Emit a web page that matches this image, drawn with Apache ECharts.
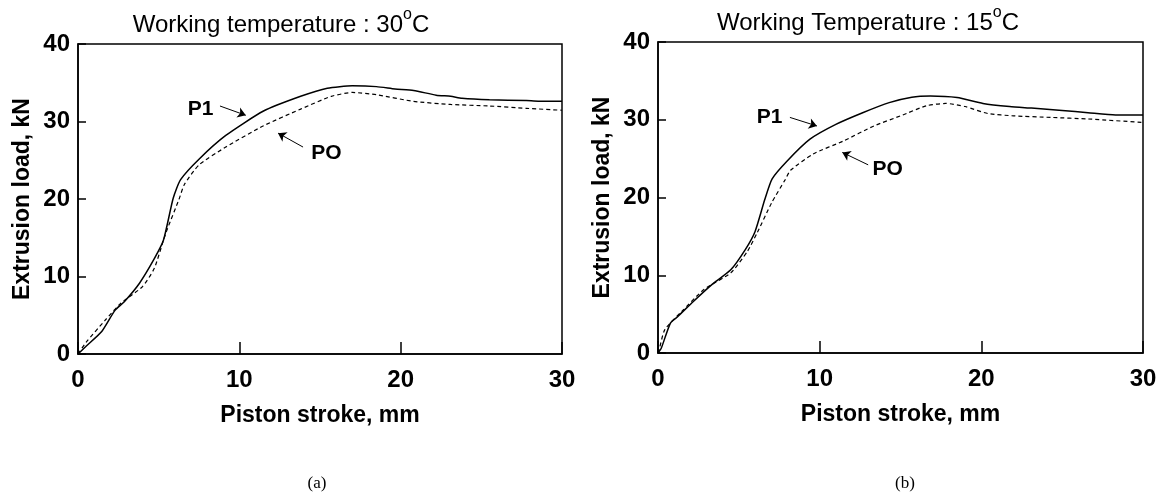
<!DOCTYPE html>
<html>
<head>
<meta charset="utf-8">
<script src="https://cdn.jsdelivr.net/npm/echarts@6/dist/echarts.min.js"></script>
<style>
  html, body { margin: 0; padding: 0; background: #fff; }
  #chart { width: 1170px; height: 495px; }
</style>
</head>
<body>
<div id="chart"></div>
<script>
// (a) working temperature 30 C
const strokeA_P1 = [0, 0.5, 1.47, 2.28, 2.87, 3.8, 4.73, 5.3, 5.9, 6.36, 7.53, 9.16, 11.5, 13.8, 15.45, 17.0, 18.5, 19.65, 20.8, 22.2, 23.1, 23.8, 25.5, 27.8, 29, 30]
const loadA_P1   = [0, 1.0, 2.9, 5.6, 6.75, 9.1, 12.3, 14.7, 20.1, 22.5, 25.2, 28.2, 31.35, 33.25, 34.3, 34.6, 34.5, 34.2, 34.0, 33.4, 33.25, 33.0, 32.8, 32.7, 32.6, 32.6]
const strokeA_PO = [0, 0.5, 1.7, 2.63, 4.0, 4.73, 5.3, 5.55, 6.25, 6.6, 7.5, 9.16, 11.5, 13.8, 15.7, 17.0, 18.5, 20.8, 23.1, 25.5, 27.8, 30]
const loadA_PO   = [0, 1.5, 4.4, 6.5, 8.7, 11.05, 14.7, 16.2, 19.9, 21.9, 24.4, 26.7, 29.45, 31.6, 33.25, 33.75, 33.45, 32.6, 32.2, 32.0, 31.7, 31.45]

// (b) working temperature 15 C
const strokeB_P1 = [0, 0.2, 0.77, 1.23, 2.17, 3.33, 4.5, 5.4, 6.0, 6.6, 7.06, 7.99, 9.4, 11.0, 12.66, 14.3, 15.7, 16.85, 18.5, 20.1, 21.75, 23.1, 25, 26.6, 28.3, 30]
const loadB_P1   = [0, 0.6, 3.85, 4.7, 6.6, 8.8, 10.7, 13.3, 15.6, 19.7, 22.4, 24.7, 27.5, 29.4, 30.9, 32.2, 32.9, 33.05, 32.85, 32.1, 31.7, 31.5, 31.2, 30.9, 30.6, 30.6]
const strokeB_PO = [0, 0.07, 0.42, 1.47, 2.86, 4.5, 5.54, 6.12, 7.05, 7.87, 8.2, 9.6, 11.5, 13.35, 15, 16.6, 17.8, 19, 20.4, 22, 24.3, 26.6, 30]
const loadB_PO   = [0, 0.4, 3.0, 5.35, 8.2, 10.3, 13.1, 15.4, 19.4, 22.3, 23.5, 25.6, 27.3, 29.2, 30.5, 31.8, 32.1, 31.7, 30.8, 30.5, 30.3, 30.1, 29.65]

const xTicks = [0, 10, 20, 30]
const yTicks = [0, 10, 20, 30, 40]

// annotation positions in data units: [text x, text y, arrow from x, y, arrow to x, y]
const noteA_P1 = [7.6, 31.6, 8.8, 32.0, 10.4, 30.8]
const noteA_PO = [15.4, 25.9, 13.95, 26.7, 12.4, 28.5]
const noteB_P1 = [6.9, 30.3, 8.16, 30.3, 9.83, 29.2]
const noteB_PO = [14.2, 23.65, 13.0, 24.2, 11.4, 25.8]

const font = 'Liberation Sans, Arial, sans-serif'

function pairs(xs, ys) {
  return xs.map((x, i) => [x, ys[i]])
}

function xAxis(idx) {
  return {
    type: 'value', gridIndex: idx, min: 0, max: 30, interval: 10,
    name: 'Piston stroke, mm', nameLocation: 'middle', nameGap: 50,
    nameTextStyle: { fontFamily: font, fontSize: 23, fontWeight: 'bold', color: '#000' },
    axisLine: { lineStyle: { color: '#000', width: 1.5 } },
    axisTick: { inside: true, length: 12, lineStyle: { color: '#000', width: 1.5 } },
    axisLabel: { fontFamily: font, fontSize: 24, fontWeight: 'bold', color: '#000', margin: 14 },
    splitLine: { show: false }
  }
}

function yAxis(idx) {
  return {
    type: 'value', gridIndex: idx, min: 0, max: 40, interval: 10,
    name: 'Extrusion load, kN', nameLocation: 'middle', nameGap: 44,
    nameTextStyle: { fontFamily: font, fontSize: 23, fontWeight: 'bold', color: '#000' },
    axisLine: { show: true, lineStyle: { color: '#000', width: 1.5 } },
    axisTick: { show: true, inside: true, length: 8, lineStyle: { color: '#000', width: 1.5 } },
    axisLabel: { fontFamily: font, fontSize: 24, fontWeight: 'bold', color: '#000', margin: 8 },
    splitLine: { show: false }
  }
}

function note(n, label) {
  return {
    markLine: {
      silent: true, animation: false,
      symbol: ['none', 'arrow'], symbolSize: 8,
      lineStyle: { color: '#000', width: 1, type: 'solid' },
      label: { show: false },
      data: [[{ coord: [n[2], n[3]] }, { coord: [n[4], n[5]] }]]
    },
    markPoint: {
      silent: true, animation: false,
      symbol: 'circle', symbolSize: 1,
      itemStyle: { color: 'transparent' },
      label: { show: true, position: 'inside', formatter: label, color: '#000',
               fontFamily: font, fontSize: 21, fontWeight: 'bold' },
      data: [{ coord: [n[0], n[1]] }]
    }
  }
}

function series(idx, xs, ys, dashed, n, label) {
  return Object.assign({
    type: 'line', xAxisIndex: idx, yAxisIndex: idx,
    data: pairs(xs, ys), showSymbol: false, smooth: 0.2,
    lineStyle: dashed ? { color: '#000', width: 1.2, type: [4, 3] } : { color: '#000', width: 1.5 },
    animation: false
  }, note(n, label))
}

function titleText(t) {
  return '{a|' + t + '}{s|o}{a|C}'
}
const titleRich = {
  a: { fontFamily: font, fontSize: 24, fontWeight: 'normal', color: '#000', lineHeight: 30, verticalAlign: 'bottom' },
  s: { fontFamily: font, fontSize: 16, fontWeight: 'normal', color: '#000', lineHeight: 16, verticalAlign: 'top' }
}

const chart = echarts.init(document.getElementById('chart'))
chart.setOption({
  backgroundColor: '#fff',
  title: [
    { text: titleText('Working temperature : 30'), left: 276, top: 2, textAlign: 'center', textStyle: { fontWeight: 'normal', rich: titleRich } },
    { text: titleText('Working Temperature : 15'), left: 863, top: 0, textAlign: 'center', textStyle: { fontWeight: 'normal', rich: titleRich } },
    { text: '(a)', left: 312, top: 470, textAlign: 'center', textStyle: { fontFamily: 'Liberation Serif, serif', fontSize: 17, fontWeight: 'normal', color: '#000' } },
    { text: '(b)', left: 900, top: 470, textAlign: 'center', textStyle: { fontFamily: 'Liberation Serif, serif', fontSize: 17, fontWeight: 'normal', color: '#000' } }
  ],
  grid: [
    { left: 78, top: 44, width: 484, height: 310, show: true, borderColor: '#000', borderWidth: 1.5, backgroundColor: 'transparent' },
    { left: 658, top: 42, width: 485, height: 311, show: true, borderColor: '#000', borderWidth: 1.5, backgroundColor: 'transparent' }
  ],
  xAxis: [xAxis(0), xAxis(1)],
  yAxis: [yAxis(0), yAxis(1)],
  series: [
    series(0, strokeA_P1, loadA_P1, false, noteA_P1, 'P1'),
    series(0, strokeA_PO, loadA_PO, true, noteA_PO, 'PO'),
    series(1, strokeB_P1, loadB_P1, false, noteB_P1, 'P1'),
    series(1, strokeB_PO, loadB_PO, true, noteB_PO, 'PO')
  ]
})
</script>
</body>
</html>
